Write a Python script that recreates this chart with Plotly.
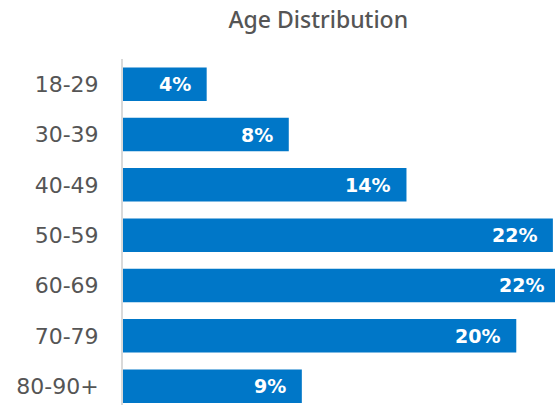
import plotly.graph_objects as go

categories = ["18-29", "30-39", "40-49", "50-59", "60-69", "70-79", "80-90+"]
values = [4.23, 8.38, 14.33, 21.73, 22.07, 19.88, 9.04]
labels = ["4%", "8%", "14%", "22%", "22%", "20%", "9%"]

XMAX = 23.0
PX_PER_UNIT = 19.8
LEFT = 123
W = int(round(LEFT + XMAX * PX_PER_UNIT))
H = 405
FONT = "DejaVu Sans"
TITLE_FONT = "Noto Sans"
GRAY = "#555555"
BLUE = "#0077c8"

fig = go.Figure(go.Bar(
    x=values, y=categories, orientation="h",
    marker=dict(color=BLUE, line=dict(width=0)),
    width=0.666, hoverinfo="skip",
))

for c, v, t in zip(categories, values, labels):
    fig.add_annotation(x=v, y=c, text=t, showarrow=False, xanchor="right",
                       xshift=-14, yshift=0,
                       font=dict(family=FONT, size=19, color="white", weight=700))

fig.update_layout(
    width=W, height=H,
    margin=dict(l=LEFT, r=0, t=59, b=0),
    paper_bgcolor="white", plot_bgcolor="white",
    showlegend=False,
    title=dict(text="Age Distribution", x=318.3 / W, xref="container", xanchor="center",
               y=1 - 19.5 / H, yref="container", yanchor="middle",
               font=dict(family=TITLE_FONT, size=23, color=GRAY, weight=500)),
    xaxis=dict(range=[0, XMAX], showgrid=False, zeroline=False,
               showticklabels=False, showline=False, fixedrange=True),
    yaxis=dict(categoryorder="array", categoryarray=categories,
               range=[-0.5 + 346 / 50.33, -0.5], showgrid=False, zeroline=False,
               showline=True, linecolor="#d9d9d9", linewidth=2,
               ticks="", ticklabelstandoff=18,
               tickfont=dict(family=FONT, size=22, color=GRAY), fixedrange=True),
)

fig.write_html(
    "out.html",
    config={"displayModeBar": False},
    post_script="document.body.style.margin='0';document.body.style.overflow='hidden';",
)
